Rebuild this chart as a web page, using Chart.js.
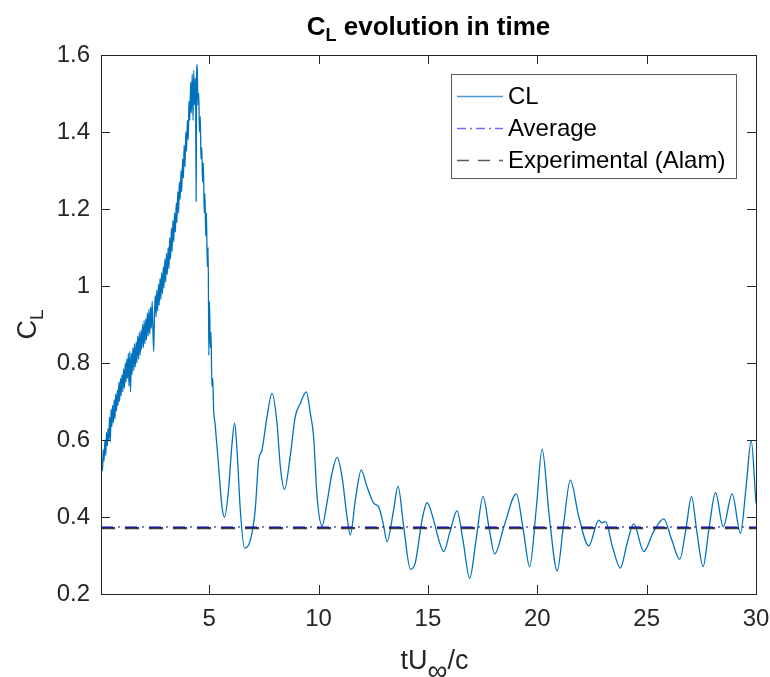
<!DOCTYPE html>
<html>
<head>
<meta charset="utf-8">
<script src="https://cdn.jsdelivr.net/npm/chart.js@4.4.0/dist/chart.umd.min.js"></script>
<style>
  html, body { margin: 0; padding: 0; background: #fff; }
  canvas { display: block; }
</style>
</head>
<body>
<canvas id="chart" width="770" height="677"></canvas>
<script>
// tU/c and C_L
var tCL = [
  0.05, 0.08, 0.12, 0.15, 0.19, 0.23, 0.27, 0.30, 0.34, 0.37, 0.41, 0.44, 0.48, 0.51, 0.55, 0.58,
  0.62, 0.65, 0.69, 0.72, 0.76, 0.80, 0.83, 0.87, 0.90, 0.94, 0.97, 1.01, 1.05, 1.08, 1.12, 1.16,
  1.19, 1.23, 1.26, 1.30, 1.33, 1.37, 1.40, 1.44, 1.47, 1.51, 1.55, 1.58, 1.62, 1.66, 1.69, 1.73,
  1.77, 1.80, 1.84, 1.88, 1.91, 1.95, 1.99, 2.02, 2.06, 2.10, 2.13, 2.17, 2.21, 2.24, 2.28, 2.32,
  2.35, 2.39, 2.42, 2.46, 2.49, 2.53, 2.57, 2.60, 2.64, 2.68, 2.71, 2.75, 2.79, 2.82, 2.86, 2.90,
  2.93, 2.97, 3.01, 3.04, 3.08, 3.12, 3.16, 3.19, 3.23, 3.27, 3.30, 3.34, 3.38, 3.41, 3.45, 3.49,
  3.52, 3.56, 3.60, 3.63, 3.67, 3.71, 3.74, 3.78, 3.82, 3.85, 3.89, 3.93, 3.96, 4.00, 4.04, 4.07,
  4.11, 4.15, 4.18, 4.22, 4.26, 4.29, 4.33, 4.37, 4.40, 4.42, 4.45, 4.48, 4.52, 4.55, 4.59, 4.62,
  4.66, 4.69, 4.73, 4.77, 4.80, 4.84, 4.87, 4.91, 4.95, 4.98, 5.01, 5.05, 5.08, 5.12, 5.16, 5.20,
  5.27, 5.43, 5.58, 5.70, 5.88, 6.04, 6.16, 6.27, 6.42, 6.61, 6.88, 7.10, 7.26, 7.41, 7.64, 7.87,
  8.10, 8.25, 8.44, 8.70, 8.93, 9.16, 9.44, 9.62, 9.77, 9.93, 10.16, 10.38, 10.61, 10.84, 11.07, 11.30,
  11.45, 11.68, 11.95, 12.21, 12.52, 12.74, 12.95, 13.13, 13.43, 13.63, 13.89, 14.20, 14.42, 14.73, 14.96, 15.26,
  15.50, 15.72, 16.00, 16.33, 16.60, 16.91, 17.20, 17.52, 17.80, 18.05, 18.50, 19.04, 19.35, 19.65, 19.95, 20.22,
  20.55, 20.91, 21.20, 21.51, 21.90, 22.35, 22.81, 22.95, 23.12, 23.45, 23.80, 24.10, 24.41, 24.87, 25.30, 25.78,
  26.15, 26.51, 26.80, 27.05, 27.30, 27.58, 27.85, 28.15, 28.50, 28.91, 29.29, 29.55, 29.78, 30.00
];
var cl = [
  0.505, 0.545, 0.52, 0.575, 0.545, 0.60, 0.56, 0.62, 0.585, 0.63, 0.60, 0.66, 0.595, 0.68, 0.635, 0.69,
  0.645, 0.705, 0.655, 0.72, 0.675, 0.73, 0.69, 0.75, 0.70, 0.76, 0.715, 0.77, 0.725, 0.785, 0.735, 0.80,
  0.75, 0.81, 0.76, 0.825, 0.74, 0.83, 0.725, 0.825, 0.77, 0.84, 0.78, 0.85, 0.79, 0.855, 0.80, 0.87,
  0.81, 0.88, 0.82, 0.885, 0.835, 0.90, 0.84, 0.91, 0.85, 0.915, 0.86, 0.93, 0.87, 0.94, 0.875, 0.945,
  0.89, 0.96, 0.895, 0.83, 0.915, 0.975, 0.92, 0.99, 0.935, 1.005, 0.95, 1.02, 0.965, 1.035, 0.98, 1.05,
  0.995, 1.07, 1.01, 1.085, 1.03, 1.10, 1.045, 1.125, 1.07, 1.15, 1.09, 1.17, 1.115, 1.19, 1.14, 1.215,
  1.165, 1.245, 1.19, 1.27, 1.225, 1.30, 1.245, 1.33, 1.28, 1.365, 1.31, 1.40, 1.35, 1.43, 1.38, 1.48,
  1.43, 1.53, 1.45, 1.55, 1.43, 1.56, 1.47, 1.54, 1.22, 1.55, 1.575, 1.47, 1.50, 1.40, 1.44, 1.33,
  1.36, 1.27, 1.32, 1.19, 1.24, 1.13, 1.19, 1.05, 1.10, 0.82, 0.96, 0.84, 0.88, 0.74, 0.76, 0.68,
  0.64, 0.53, 0.427, 0.40, 0.47, 0.59, 0.644, 0.574, 0.418, 0.319, 0.34, 0.418, 0.548, 0.574, 0.66, 0.721,
  0.643, 0.531, 0.472, 0.557, 0.66, 0.695, 0.725, 0.67, 0.609, 0.453, 0.377, 0.436, 0.513, 0.555, 0.505, 0.40,
  0.353, 0.444, 0.522, 0.479, 0.436, 0.427, 0.384, 0.336, 0.418, 0.48, 0.375, 0.264, 0.281, 0.392, 0.437, 0.392,
  0.34, 0.31, 0.36, 0.416, 0.34, 0.241, 0.34, 0.453, 0.37, 0.304, 0.38, 0.46, 0.37, 0.271, 0.42, 0.576,
  0.40, 0.26, 0.38, 0.496, 0.40, 0.325, 0.392, 0.385, 0.388, 0.32, 0.267, 0.33, 0.382, 0.31, 0.36, 0.395,
  0.34, 0.29, 0.37, 0.453, 0.36, 0.271, 0.37, 0.463, 0.375, 0.46, 0.358, 0.48, 0.598, 0.435
];
var avgCL = [0.374];
var expCL = [0.371];
var xRange = [0.05, 30];
var yRange = [0.2, 1.6];
var xTicks = [5, 10, 15, 20, 25, 30];
var yTicks = [0.2, 0.4, 0.6, 0.8, 1, 1.2, 1.4, 1.6];

var FONT = "'Liberation Sans', Arial, Helvetica, sans-serif";
var INK = '#262626';

function levelLine(v) {
  return [{ x: xRange[0], y: v }, { x: xRange[1], y: v }];
}

// draws a run of text pieces, some of them lowered as subscripts
function richText(ctx, parts, x, y) {
  var w = 0;
  parts.forEach(function(p) { ctx.font = p.font; w += ctx.measureText(p.t).width; });
  var cx = x - w / 2;
  ctx.textAlign = 'left';
  ctx.textBaseline = 'alphabetic';
  parts.forEach(function(p) {
    ctx.font = p.font;
    ctx.fillText(p.t, cx, y + (p.dy || 0));
    cx += ctx.measureText(p.t).width;
  });
}

var decorations = {
  id: 'decorations',
  afterDraw: function(chart) {
    var ctx = chart.ctx;
    var a = chart.chartArea;
    var xs = chart.scales.x, ys = chart.scales.y;
    ctx.save();

    // box and inward ticks, matlab style
    ctx.strokeStyle = INK;
    ctx.lineWidth = 1;
    ctx.strokeRect(a.left + 0.5, a.top + 0.5, a.right - a.left, a.bottom - a.top);
    ctx.beginPath();
    xTicks.forEach(function(v) {
      var px = Math.round(xs.getPixelForValue(v)) + 0.5;
      ctx.moveTo(px, a.bottom); ctx.lineTo(px, a.bottom - 9);
      ctx.moveTo(px, a.top); ctx.lineTo(px, a.top + 9);
    });
    yTicks.forEach(function(v) {
      var py = Math.round(ys.getPixelForValue(v)) + 0.5;
      ctx.moveTo(a.left, py); ctx.lineTo(a.left + 9, py);
      ctx.moveTo(a.right, py); ctx.lineTo(a.right - 9, py);
    });
    ctx.stroke();

    // title and axis labels
    ctx.fillStyle = '#000';
    var mid = (a.left + a.right) / 2;
    richText(ctx, [
      { t: 'C', font: 'bold 26px ' + FONT },
      { t: 'L', font: 'bold 18px ' + FONT, dy: 6 },
      { t: ' evolution in time', font: 'bold 26px ' + FONT }
    ], mid, 35);

    ctx.fillStyle = INK;
    richText(ctx, [
      { t: 'tU', font: '27px ' + FONT },
      { t: '\u221E', font: '28px ' + FONT, dy: 11 },
      { t: '/c', font: '27px ' + FONT }
    ], mid + 6, 669);

    ctx.save();
    ctx.translate(36, (a.top + a.bottom) / 2);
    ctx.rotate(-Math.PI / 2);
    richText(ctx, [
      { t: 'C', font: '27px ' + FONT },
      { t: 'L', font: '19px ' + FONT, dy: 7 }
    ], 0, 0);
    ctx.restore();

    // legend box
    var lx = 451, ly = 74, lw = 285, lh = 104;
    ctx.fillStyle = '#fff';
    ctx.fillRect(lx, ly, lw, lh);
    ctx.strokeStyle = '#5a5a5a';
    ctx.strokeRect(lx + 0.5, ly + 0.5, lw, lh);
    var rows = [
      { label: 'CL', color: '#4d9bd6', dash: [], y: 96 },
      { label: 'Average', color: '#6a6aff', dash: [9, 4, 2, 4], y: 128 },
      { label: 'Experimental (Alam)', color: '#5a5a5a', dash: [12, 9], y: 160 }
    ];
    rows.forEach(function(r) {
      ctx.beginPath();
      ctx.setLineDash(r.dash);
      ctx.strokeStyle = r.color;
      ctx.lineWidth = 1.5;
      ctx.moveTo(457, r.y + 0.5);
      ctx.lineTo(503, r.y + 0.5);
      ctx.stroke();
      ctx.setLineDash([]);
      ctx.fillStyle = '#000';
      ctx.font = '24px ' + FONT;
      ctx.textAlign = 'left';
      ctx.textBaseline = 'middle';
      ctx.fillText(r.label, 508, r.y + 1);
    });
    ctx.restore();
  }
};

new Chart(document.getElementById('chart'), {
  type: 'line',
  data: {
    datasets: [
      {
        label: 'CL',
        data: tCL.map(function(t, i) { return { x: t, y: cl[i] }; }),
        borderColor: '#0072BD',
        borderWidth: 1.3,
        pointRadius: 0,
        cubicInterpolationMode: 'monotone',
        order: 3
      },
      {
        label: 'Average',
        data: levelLine(avgCL[0]),
        borderColor: '#0000cc',
        borderWidth: 1.1,
        borderDash: [12, 5, 2, 5],
        pointRadius: 0,
        order: 1
      },
      {
        label: 'Experimental (Alam)',
        data: levelLine(expCL[0]),
        borderColor: '#3c3c3c',
        borderWidth: 2.2,
        borderDash: [14, 10],
        pointRadius: 0,
        order: 2
      }
    ]
  },
  options: {
    responsive: false,
    animation: false,
    devicePixelRatio: 1,
    layout: { padding: { top: 55, right: 14, left: 0, bottom: 0 } },
    plugins: {
      legend: { display: false },
      tooltip: { enabled: false },
      title: { display: false }
    },
    scales: {
      x: {
        type: 'linear',
        min: xRange[0],
        max: xRange[1],
        afterBuildTicks: function(s) { s.ticks = xTicks.map(function(v) { return { value: v }; }); },
        afterFit: function(s) { s.height = 83; s.paddingLeft = 0; s.paddingRight = 0; },
        grid: { display: false, drawTicks: false },
        border: { display: false },
        ticks: { color: INK, font: { family: FONT, size: 24 }, padding: 11, maxRotation: 0 }
      },
      y: {
        type: 'linear',
        min: yRange[0],
        max: yRange[1],
        afterBuildTicks: function(s) { s.ticks = yTicks.map(function(v) { return { value: v }; }); },
        afterFit: function(s) { s.width = 101; s.paddingTop = 0; s.paddingBottom = 0; },
        grid: { display: false, drawTicks: false },
        border: { display: false },
        ticks: {
          color: INK,
          font: { family: FONT, size: 24 },
          padding: 11,
          callback: function(v) { return String(v); }
        }
      }
    }
  },
  plugins: [decorations]
});
</script>
</body>
</html>
